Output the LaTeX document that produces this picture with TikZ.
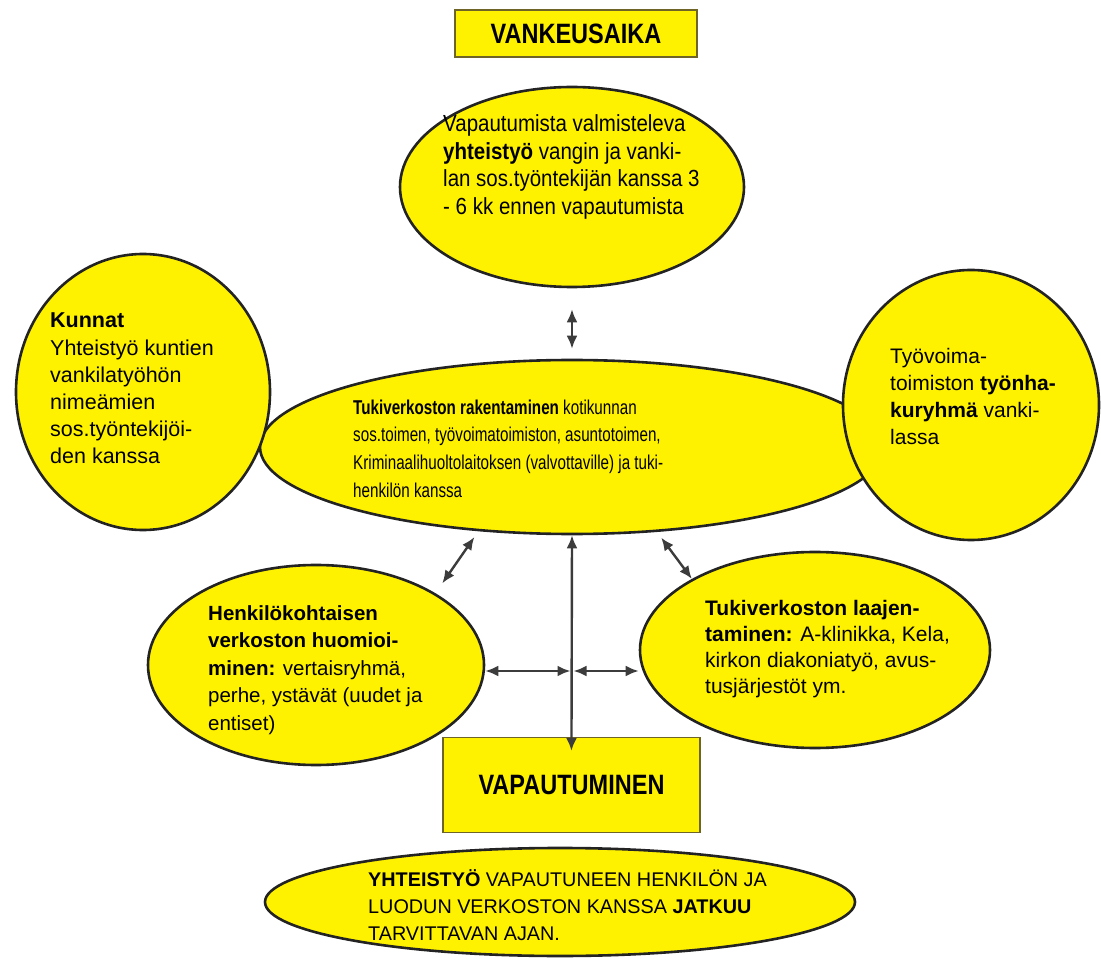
\documentclass[tikz,border=0pt]{standalone}
\usepackage{fontspec}
\setmainfont{Liberation Sans}
\newfontfamily\kapea[FakeStretch=0.76]{Liberation Sans}
\newfontfamily\puolikapea[FakeStretch=0.88]{Liberation Sans}
\newfontfamily\otsikkofontti[FakeStretch=0.84]{Liberation Sans}
\usetikzlibrary{shapes.geometric,arrows.meta}
\definecolor{keltainen}{RGB}{255,242,0}
\definecolor{reuna}{RGB}{35,35,35}
\definecolor{laatikkoreuna}{RGB}{110,100,40}
\definecolor{nuoli}{RGB}{60,60,60}
\tikzset{
  kupla/.style={ellipse, draw=reuna, line width=2.6pt, fill=keltainen, inner sep=0pt},
  otsikko/.style={draw=laatikkoreuna, line width=1.2pt, fill=keltainen, font=\otsikkofontti\fontsize{28}{30}\selectfont\bfseries},
  teksti/.style={align=left, anchor=base west, inner sep=0pt},
  kaksi/.style={{Latex[length=13pt,width=11pt]}-{Latex[length=13pt,width=11pt]}, line width=2.4pt, draw=nuoli}
}

\begin{document}
\begin{tikzpicture}[x=1pt,y=-1pt]
            \useasboundingbox (0,0) rectangle (1101,965);
            % ellipses
            \node[kupla, minimum width=624pt, minimum height=174pt] (mid) at (572,447) {};
            \node[kupla, minimum width=254pt, minimum height=276pt] (kunnat) at (143,392) {};
            \node[kupla, minimum width=256pt, minimum height=270pt] (tyovoima) at (971,405) {};
            \node[kupla, minimum width=344pt, minimum height=200pt] (valm) at (572,187) {};
            \node[kupla, minimum width=336pt, minimum height=200pt] (henk) at (316,665) {};
            \node[kupla, minimum width=350pt, minimum height=196pt] (laaj) at (815,650) {};
            \node[kupla, minimum width=590pt, minimum height=108pt] (jatkuu) at (560,902) {};
            % boxes
            \node[otsikko, minimum width=242pt, minimum height=47pt] (vankeus) at (576,33.5) {VANKEUSAIKA};
            \node[otsikko, minimum width=257pt, minimum height=95pt] (vap) at (571.5,785) {VAPAUTUMINEN};
            % texts (anchored at the last baseline)
            \node[teksti, font=\puolikapea\fontsize{23.3}{27.5}\selectfont] (valmt) at (443,214.5) {Vapautumista valmisteleva\\ \textbf{yhteistyö} vangin ja vanki-\\ lan sos.työntekijän kanssa 3\\ - 6 kk ennen vapautumista};
            \node[teksti, font=\fontsize{21.5}{27.2}\selectfont] (kunnatt) at (50,464) {\textbf{Kunnat}\\ Yhteistyö kuntien\\ vankilatyöhön\\ nimeämien\\ sos.työntekijöi-\\ den kanssa};
            \node[teksti, font=\fontsize{21}{27.3}\selectfont] (tyovoimat) at (890,445) {Työvoima-\\ toimiston \textbf{työnha-}\\ \textbf{kuryhmä} vanki-\\ lassa};
            \node[teksti, font=\kapea\fontsize{20}{27.6}\selectfont] (midt) at (353,497) {\textbf{Tukiverkoston rakentaminen} kotikunnan\\ sos.toimen, työvoimatoimiston, asuntotoimen,\\ Kriminaalihuoltolaitoksen (valvottaville) ja tuki-\\ henkilön kanssa};
            \node[teksti, font=\fontsize{20.5}{27.5}\selectfont] (henkt) at (208,730) {\textbf{Henkilökohtaisen}\\ \textbf{verkoston huomioi-}\\ \textbf{minen:} vertaisryhmä,\\ perhe, ystävät (uudet ja\\ entiset)};
            \node[teksti, font=\fontsize{21}{26}\selectfont] (laajt) at (705,693) {\textbf{Tukiverkoston laajen-}\\ \textbf{taminen:} A-klinikka, Kela,\\ kirkon diakoniatyö, avus-\\ tusjärjestöt ym.};
            \node[teksti, font=\fontsize{19.8}{27}\selectfont] (jatkuut) at (368,940) {\textbf{YHTEISTYÖ} VAPAUTUNEEN HENKILÖN JA\\ LUODUN VERKOSTON KANSSA \textbf{JATKUU}\\ TARVITTAVAN AJAN.};
            % arrows
            \coordinate (risteys) at (572,671);
            \draw[kaksi, shorten <=21pt, shorten >=10pt] (valm.south) -- (mid.north);
            \draw[kaksi, shorten <=7pt, shorten >=12pt] (mid.222) -- (henk.31);
            \draw[kaksi, shorten <=7pt] (mid.315) -- (laaj.150);
            \draw[kaksi, shorten >=-14pt] (mid.south) -- (vap.north);
            \draw[kaksi, shorten >=1.5pt] (henk.east |- risteys) -- (risteys);
            \draw[kaksi, shorten <=1.5pt] (risteys) -- (risteys -| laaj.west);
        \end{tikzpicture}
\end{document}
